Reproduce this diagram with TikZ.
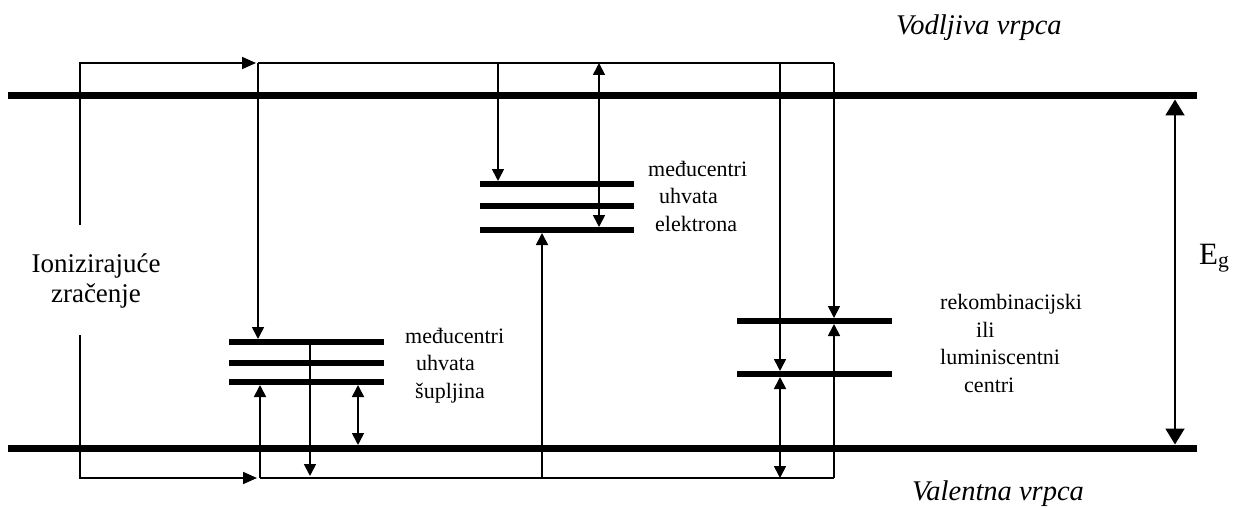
\documentclass[tikz,border=0pt]{standalone}
\usepackage{fontspec}
\setmainfont{Liberation Serif}
\usetikzlibrary{arrows.meta}

\begin{document}
\begin{tikzpicture}[x=1pt, y=-1pt,
  band/.style={line width=7pt},
  trap/.style={line width=5.5pt},
  wire/.style={line width=1.7pt},
  arr/.style={wire, -{Triangle[length=12pt,width=12pt]}},
  darr/.style={wire, {Triangle[length=12pt,width=12pt]}-{Triangle[length=12pt,width=12pt]}},
  feed/.style={wire, -{Triangle[length=14pt,width=12pt]}},
  txt/.style={font=\fontsize{22}{27.5}\selectfont, align=left, inner sep=0pt, anchor=base west},
  bandtxt/.style={font=\fontsize{28.5}{32}\selectfont\itshape, inner sep=0pt, anchor=base west}
]
\useasboundingbox (0,0) rectangle (1241,508);

% energy bands
\draw[band] (8,96) coordinate (cbw) -- (1197,96) coordinate (cbe);
\draw[band] (8,448) coordinate (vbw) -- (1197,448) coordinate (vbe);

% trap and recombination levels
\foreach \n/\y in {e1/184, e2/206, e3/230}
  \draw[trap] (480,\y) coordinate (\n) -- (634,\y);
\foreach \n/\y in {h1/342, h2/363, h3/382}
  \draw[trap] (229,\y) coordinate (\n) -- (384,\y);
\foreach \n/\y in {r1/321, r2/374}
  \draw[trap] (737,\y) coordinate (\n) -- (892,\y);

% frame of transitions
\coordinate (tl) at (258,63);
\coordinate (tr) at (834,63);
\coordinate (bl) at (260,478);
\coordinate (br) at (834,478);

% ionising radiation feed
\draw[feed] (80,225) |- (256,63);
\draw[feed] (80,335) |- (257,478);

% upper transitions
\draw[wire] (tl) -- (tr);
\draw[arr] (tl) -- (258,339);
\draw[arr] (498,63) -- (498,181);
\draw[darr] (599,63) -- (599,227);
\draw[arr] (780,63) -- (780,371);
\draw[arr] (tr) -- (834,318);

% lower transitions
\draw[wire] (bl) -- (br);
\draw[arr] (bl) -- (260,385);
\draw[arr] (310,342) -- (310,476);
\draw[darr] (358,385) -- (358,445);
\draw[arr] (542,478) -- (542,233);
\draw[darr] (780,377) -- (780,478);
\draw[arr] (br) -- (834,324);

% band gap
\draw[line width=2pt, {Triangle[length=16pt,width=19pt]}-{Triangle[length=16pt,width=19pt]}]
  (1175,99.5) -- (1175,444.5);

% labels (base = baseline of the last line)
\node[bandtxt] (cbl) at (896,35) {Vodljiva vrpca};
\node[bandtxt] (vbl) at (912,500) {Valentna vrpca};
\node[font=\fontsize{27}{30}\selectfont, align=center, inner sep=0pt, anchor=base]
  (ion) at (96,302) {Ionizirajuće\\zračenje};
\node[txt] (etl) at (648,231) {međucentri\\\hspace{11pt}uhvata\\\hspace{7pt}elektrona};
\node[txt] (htl) at (405,398) {međucentri\\\hspace{11pt}uhvata\\\hspace{10pt}šupljina};
\node[txt] (rcl) at (940,392) {rekombinacijski\\\hspace{36pt}ili\\luminiscentni\\\hspace{24pt}centri};
\node[font=\fontsize{31}{34}\selectfont, inner sep=0pt, anchor=base west]
  (eg) at (1199,264) {E\textsubscript{g}};
\end{tikzpicture}
\end{document}
